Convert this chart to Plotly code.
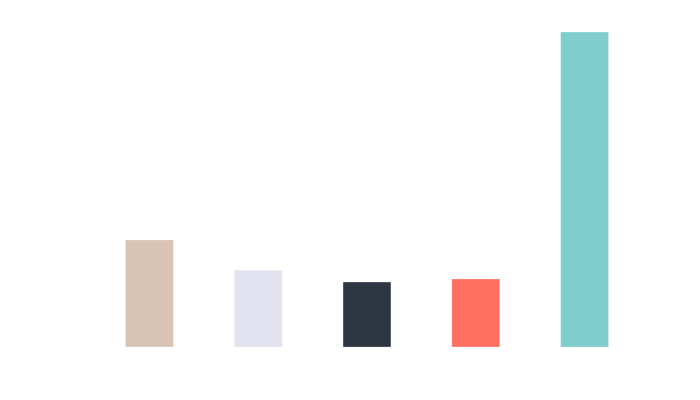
import plotly.graph_objects as go

categories = ["A", "B", "C", "D", "E"]
values = [34.0, 24.4, 20.6, 21.6, 100.0]
colors = ["#D9C3B5", "#E2E2F0", "#2D3742", "#FF6F61", "#7FCECD"]

fig = go.Figure(
    go.Bar(
        x=categories,
        y=values,
        marker=dict(color=colors, line=dict(color="rgba(255,255,255,0.5)", width=0.5)),
        width=0.44,
    )
)
fig.update_layout(
    width=700,
    height=400,
    margin=dict(l=87, r=69, t=24, b=61),
    paper_bgcolor="white",
    plot_bgcolor="white",
    showlegend=False,
    xaxis=dict(visible=False),
    yaxis=dict(visible=False, range=[0, 100]),
)
fig.write_html("out.html")
